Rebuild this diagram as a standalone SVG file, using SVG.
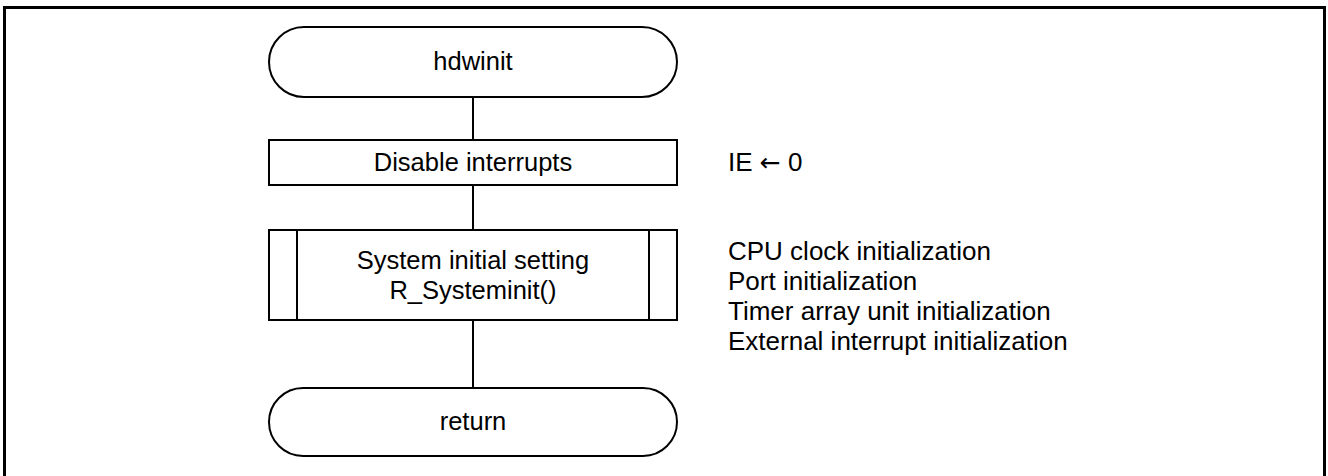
<svg xmlns="http://www.w3.org/2000/svg" width="1328" height="476" viewBox="0 0 1328 476">
<style>
.shape{fill:#fff;stroke:#000;stroke-width:2}
.conn{fill:none;stroke:#000;stroke-width:2}
text{font-family:"Liberation Sans",Arial,sans-serif;font-size:25.5px;fill:#000}
.c{text-anchor:middle}
.note{font-size:26px}
.arrow{font-family:"DejaVu Sans",sans-serif;font-size:25px}
</style>
<rect x="0" y="0" width="1328" height="476" fill="#fff"/>
<path d="M4.5,476 V7.5 H1324.5 V476" fill="none" stroke="#000" stroke-width="3"/>
<g id="connectors">
<line class="conn" x1="473" y1="97" x2="473" y2="140"/>
<line class="conn" x1="473" y1="185" x2="473" y2="230"/>
<line class="conn" x1="473" y1="320" x2="473" y2="388"/>
</g>
<g id="start">
<rect class="shape" x="269" y="27" width="408" height="70" rx="35" ry="35"/>
<text class="c" x="473" y="70">hdwinit</text>
</g>
<g id="disable">
<rect class="shape" x="269" y="140" width="408" height="45"/>
<text class="c" x="473" y="171">Disable interrupts</text>
</g>
<g id="sysinit">
<rect class="shape" x="269" y="230" width="408" height="90"/>
<line class="conn" x1="297" y1="230" x2="297" y2="320"/>
<line class="conn" x1="649" y1="230" x2="649" y2="320"/>
<text class="c" x="473" y="268.5">System initial setting</text>
<text class="c" x="473" y="299">R_Systeminit()</text>
</g>
<g id="return">
<rect class="shape" x="269" y="388" width="408" height="68" rx="34" ry="34"/>
<text class="c" x="473" y="430">return</text>
</g>
<g id="notes">
<text class="note" x="728" y="171">IE <tspan class="arrow">←</tspan> 0</text>
<text class="note" x="728" y="259.5">CPU clock initialization</text>
<text class="note" x="728" y="289.5">Port initialization</text>
<text class="note" x="728" y="319.5">Timer array unit initialization</text>
<text class="note" x="728" y="349.5">External interrupt initialization</text>
</g>
</svg>
